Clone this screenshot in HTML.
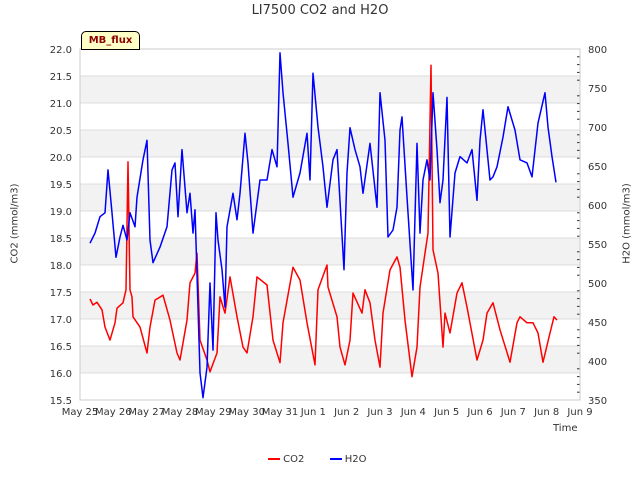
<!DOCTYPE html>
<html><head><meta charset="utf-8"><style>
body{margin:0;background:#fff;font-family:"DejaVu Sans","Liberation Sans",sans-serif}
</style></head><body>
<svg id="c" width="640" height="480" xmlns="http://www.w3.org/2000/svg" style="font-family:'DejaVu Sans','Liberation Sans',sans-serif"></svg>
<script>
const co2T=[0.30,0.39,0.51,0.66,0.75,0.90,1.05,1.11,1.29,1.38,1.44,1.50,1.56,1.59,1.80,2.01,2.10,2.25,2.49,2.70,2.91,3.00,3.21,3.30,3.45,3.51,3.60,3.81,3.90,4.11,4.20,4.35,4.50,4.71,4.89,5.01,5.19,5.31,5.61,5.79,6.00,6.09,6.39,6.60,6.81,7.05,7.14,7.41,7.44,7.71,7.80,7.95,8.10,8.19,8.46,8.55,8.70,8.85,9.00,9.09,9.30,9.51,9.60,9.75,9.96,10.11,10.20,10.35,10.44,10.53,10.59,10.74,10.89,10.95,11.10,11.31,11.46,11.61,11.91,12.09,12.21,12.39,12.60,12.90,13.11,13.20,13.41,13.59,13.74,13.89,14.10,14.22,14.31];
const co2V=[17.37,17.26,17.31,17.17,16.85,16.61,16.93,17.20,17.30,17.54,19.91,17.54,17.41,17.04,16.85,16.37,16.85,17.35,17.44,16.98,16.37,16.24,16.98,17.67,17.85,18.22,16.61,16.24,16.02,16.37,17.41,17.11,17.78,17.04,16.48,16.37,17.04,17.78,17.63,16.61,16.19,16.93,17.96,17.72,16.93,16.15,17.54,18.00,17.59,17.04,16.48,16.15,16.61,17.48,17.11,17.54,17.30,16.61,16.11,17.11,17.91,18.15,17.96,16.98,15.93,16.48,17.59,18.22,18.59,21.70,18.28,17.85,16.48,17.11,16.74,17.48,17.67,17.22,16.24,16.61,17.11,17.30,16.80,16.20,16.93,17.04,16.93,16.93,16.74,16.20,16.74,17.04,16.98];
const h2oT=[0.30,0.45,0.60,0.75,0.84,0.96,1.08,1.20,1.29,1.41,1.50,1.65,1.71,1.89,2.01,2.10,2.19,2.40,2.61,2.76,2.85,2.94,3.06,3.21,3.30,3.39,3.45,3.60,3.69,3.81,3.90,3.99,4.08,4.14,4.26,4.35,4.41,4.59,4.71,4.80,4.95,5.04,5.19,5.40,5.61,5.76,5.91,6.00,6.09,6.24,6.39,6.60,6.81,6.90,6.99,7.14,7.29,7.41,7.59,7.71,7.92,8.01,8.10,8.25,8.40,8.49,8.70,8.91,9.00,9.15,9.24,9.39,9.51,9.60,9.66,9.81,9.99,10.11,10.20,10.29,10.41,10.50,10.59,10.71,10.80,10.89,11.01,11.10,11.25,11.40,11.61,11.76,11.91,12.00,12.09,12.30,12.39,12.51,12.69,12.84,13.05,13.20,13.41,13.56,13.74,13.95,14.04,14.16,14.28];
const h2oV=[551,564,585,590,645,590,533,559,574,555,590,572,610,658,683,555,526,546,572,645,654,585,671,590,615,564,594,385,353,392,500,414,590,555,517,469,572,615,581,615,692,654,564,632,632,671,649,795,744,679,610,641,692,632,769,700,649,597,658,671,517,641,699,671,649,615,679,597,744,683,559,568,597,696,713,610,491,679,564,632,658,632,744,671,603,632,738,559,641,662,654,671,606,683,722,632,636,649,687,726,696,658,654,636,705,744,700,662,629];
const xLabels=["May 25","May 26","May 27","May 28","May 29","May 30","May 31","Jun 1","Jun 2","Jun 3","Jun 4","Jun 5","Jun 6","Jun 7","Jun 8","Jun 9"];
const leftTicks=[15.5,16.0,16.5,17.0,17.5,18.0,18.5,19.0,19.5,20.0,20.5,21.0,21.5,22.0];
const rightTicks=[350,400,450,500,550,600,650,700,750,800];

const L=80,R=580,T=49,B=400;
const xS=t=>L+(R-L)*t/15;
const yL=v=>B-(B-T)*(v-15.5)/6.5;
const yR=v=>B-(B-T)*(v-350)/450;
const svg=document.getElementById('c');
const NS="http://www.w3.org/2000/svg";
function mk(tag,attrs,parent){const e=document.createElementNS(NS,tag);for(const k in attrs)e.setAttribute(k,attrs[k]);(parent||svg).appendChild(e);return e;}

for(let i=0;i<leftTicks.length-1;i++){
  const v=leftTicks[i];
  if(Math.round(v*2)%2===0){const r=mk('rect',{x:L,y:yL(v+0.5),width:R-L,height:yL(v)-yL(v+0.5),fill:'#f2f2f2'});
  
  }
}
leftTicks.forEach(v=>{
  const l=mk('line',{x1:L,x2:R,y1:yL(v),y2:yL(v),stroke:'#dcdcdc','stroke-width':1});
  
  
  const t=mk('text',{x:72,y:yL(v)+4,'text-anchor':'end','font-size':10,fill:'#333'});
  t.textContent=v.toFixed(1);
  
  
});
rightTicks.forEach(v=>{
  const t=mk('text',{x:588,y:yR(v)+4,'font-size':10,fill:'#333'});
  t.textContent=v;
  
  
});
for(let v=360;v<800;v+=10){if(v%50){const m=mk('line',{x1:R-3,x2:R,y1:yR(v),y2:yR(v),stroke:'#333','stroke-width':1});

}}
xLabels.forEach((s,i)=>{
  const t=mk('text',{x:xS(i),y:415,'text-anchor':'middle','font-size':10,fill:'#333'});
  t.textContent=s;
  
  
});
const fr=mk('rect',{x:L,y:T,width:R-L,height:B-T,fill:'none',stroke:'#ccc'});



function line(T_,V_,ys,color,name){
  const d=T_.map((t,i)=>(i?'L':'M')+xS(t).toFixed(1)+','+ys(V_[i]).toFixed(1)).join('');
  const p=mk('path',{d:d,fill:'none',stroke:color,'stroke-width':1.5,'stroke-linejoin':'round'});
  
  
}
line(co2T,co2V,yL,'#ff0000','co2-line');
line(h2oT,h2oV,yR,'#0000ff','h2o-line');
</script>
<div style="position:absolute;left:0;top:0;width:640px;height:480px;pointer-events:none">
<div style="position:absolute;top:3px;width:640px;text-align:center;font-size:13px;color:#333">LI7500 CO2 and H2O</div>
<div style="position:absolute;left:-35px;top:218px;width:100px;text-align:center;font-size:10px;color:#333;transform:rotate(-90deg)">CO2 (mmol/m3)</div>
<div style="position:absolute;left:577px;top:218px;width:100px;text-align:center;font-size:10px;color:#333;transform:rotate(-90deg)">H2O (mmol/m3)</div>
<div style="position:absolute;left:553px;top:423px;font-size:10px;color:#333">Time</div>
<div style="position:absolute;left:81px;top:31px;width:57px;height:17px;background:#ffffc8;border:1px solid #000;border-radius:5px 5px 0 0;font-size:10px;font-weight:bold;color:#8b0000;text-align:center;line-height:18px">MB_flux</div>
<div style="position:absolute;left:268px;top:454px;font-size:10px;color:#333;white-space:nowrap">
<span><span style="display:inline-block;width:12px;height:2px;background:#f00;vertical-align:middle"></span> CO2</span>
<span style="margin-left:22px"><span style="display:inline-block;width:12px;height:2px;background:#00f;vertical-align:middle"></span> H2O</span>
</div>
</div>
</body></html>
